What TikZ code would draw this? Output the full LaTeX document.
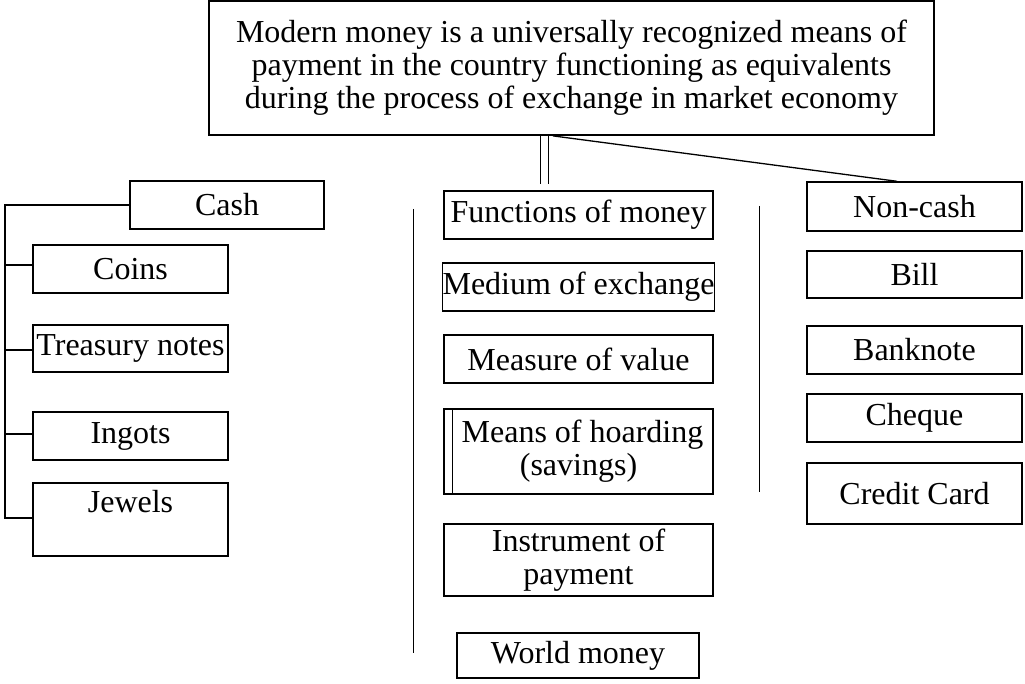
\documentclass[tikz,border=0pt]{standalone}
\usepackage{fontspec}
\setmainfont{Liberation Serif}
\begin{document}
\begin{tikzpicture}[x=1pt,y=-1pt,
  box/.style={draw, line width=1.4pt, inner sep=0pt, align=center,
    font=\fontsize{32}{33}\selectfont},
  lbox/.style={box, line width=2pt},
  tree/.style={line width=2.2pt},
  conn/.style={line width=1.3pt},
  thin/.style={line width=1pt}]
\useasboundingbox (0,0) rectangle (1025,684);
% top box
\node[box, line width=1.8pt, minimum width=725, minimum height=134] (top) at (571.5,68)
  {Modern money is a universally recognized means of\\ payment in the country functioning as equivalents\\ during the process of exchange in market economy};
% left column
\node[lbox, minimum width=194, minimum height=48] (cash) at (227,205) {Cash};
\node[lbox, minimum width=195, minimum height=48] (coins) at (130.5,269) {Coins};
\node[lbox, minimum width=195, minimum height=47] (treasury) at (130.5,348.5) {Treasury notes};
\node[lbox, minimum width=195, minimum height=48] (ingots) at (130.5,436) {Ingots};
\node[lbox, minimum width=195, minimum height=73, text height=22pt, text depth=37pt] (jewels) at (130.5,519.5) {Jewels};
% middle column
\node[box, minimum width=269, minimum height=48] (fun) at (578.5,215) {Functions of money};
\node[box, minimum width=269, minimum height=48] (medium) at (578.5,287) {Medium of exchange};
\node[box, minimum width=269, minimum height=48] (measure) at (578.5,359) {Measure of value};
\node[box, minimum width=269, minimum height=85] (hoard) at (578.5,451.5) {\hspace*{8pt}Means of hoarding\\ (savings)};
\node[box, minimum width=269, minimum height=72] (instr) at (578.5,560) {Instrument of\\ payment};
\node[box, minimum width=242, minimum height=45] (world) at (578,655.5) {World money};
% right column
\node[box, minimum width=215, minimum height=49] (noncash) at (914.5,206.5) {Non-cash};
\node[box, minimum width=215, minimum height=47] (bill) at (914.5,274.5) {Bill};
\node[box, minimum width=215, minimum height=48] (banknote) at (914.5,350) {Banknote};
\node[box, minimum width=215, minimum height=48] (cheque) at (914.5,418) {Cheque};
\node[box, minimum width=215, minimum height=61] (credit) at (914.5,493.5) {Credit Card};
% double left border of hoarding box
\coordinate (hl) at (452,0);
\draw[thin] (hoard.north west -| hl) -- (hoard.south west -| hl);
% tree on the left
\coordinate (trunk) at (5,0);
\draw[tree] (cash.west) -- (cash.west -| trunk) |- ([yshift=1.5pt]jewels.west);
\draw[tree] ([yshift=4pt]coins.west) -- ([yshift=4pt]coins.west -| trunk);
\draw[tree] ([yshift=-1.5pt]treasury.west) -- ([yshift=-1.5pt]treasury.west -| trunk);
\draw[tree] ([yshift=2pt]ingots.west) -- ([yshift=2pt]ingots.west -| trunk);
% double line from top box
\coordinate (dbot) at (544.5,184);
\draw[thin, double, double distance=7.5pt] (top.south -| dbot) -- (dbot);
% slanted line to non-cash
\coordinate (sl) at (553,0);
\coordinate (nc) at (897,0);
\draw[conn] (top.south -| sl) -- (noncash.north -| nc);
% separator lines
\coordinate (v1t) at (413,209);
\coordinate (v1b) at (413,653);
\draw[thin] (v1t) -- (v1b);
\coordinate (v2t) at (759,206);
\coordinate (v2b) at (759,492);
\draw[thin] (v2t) -- (v2b);
\end{tikzpicture}
\end{document}
